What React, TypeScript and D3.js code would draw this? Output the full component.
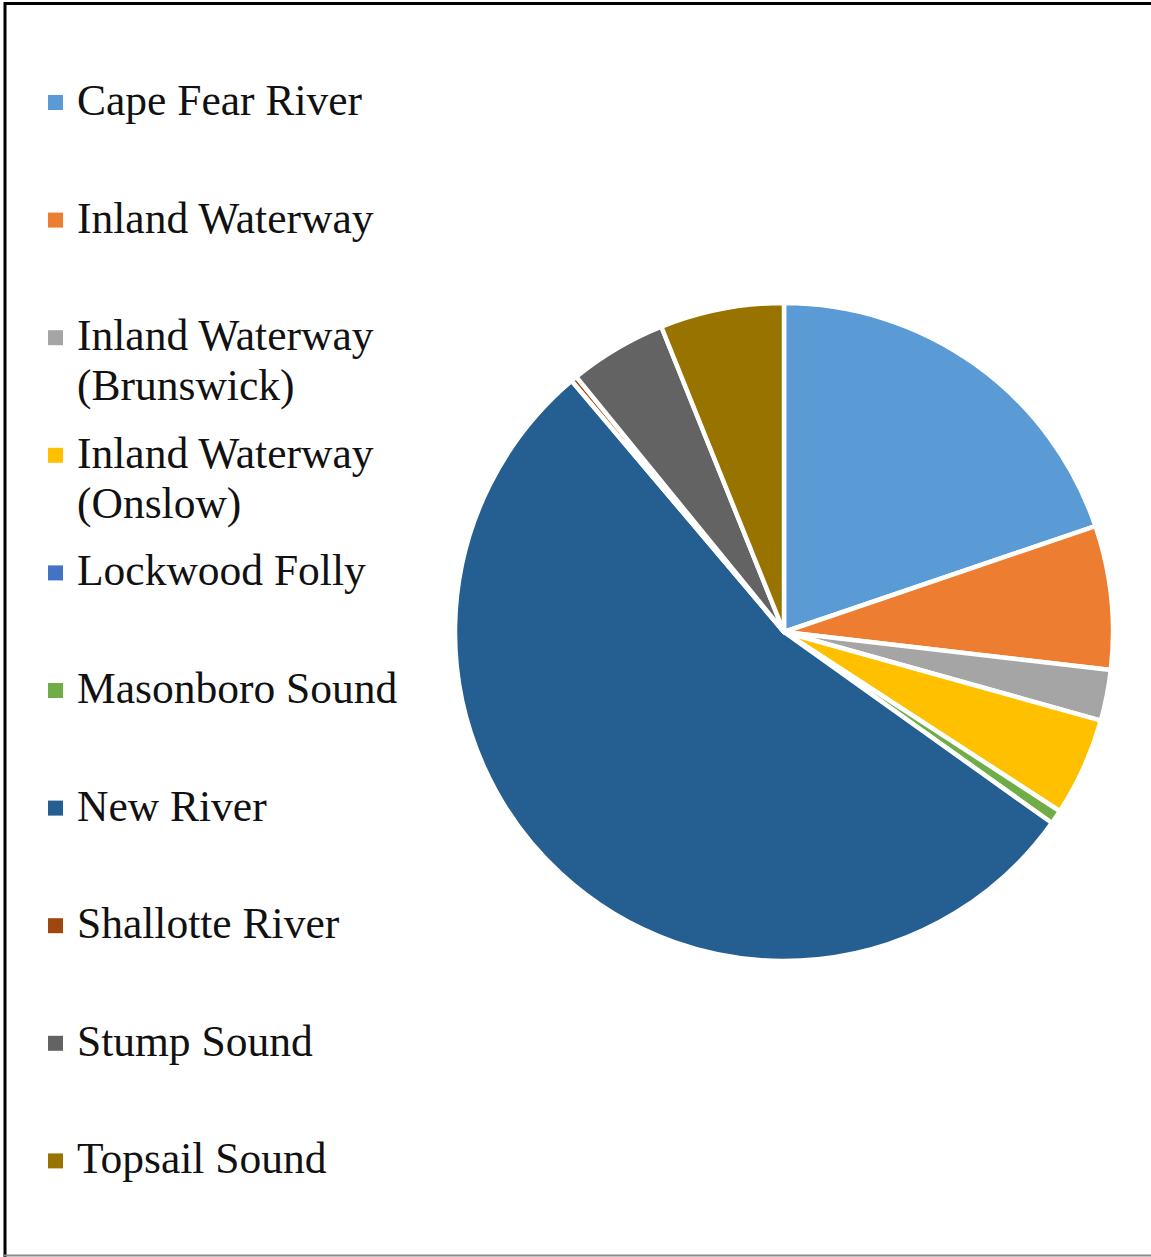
import { useRef, useEffect } from "react";
import * as d3 from "d3";

// Share of each location (percent)
const categories = [
  "Cape Fear River",
  "Inland Waterway",
  "Inland Waterway (Brunswick)",
  "Inland Waterway (Onslow)",
  "Lockwood Folly",
  "Masonboro Sound",
  "New River",
  "Shallotte River",
  "Stump Sound",
  "Topsail Sound",
];
const values = [19.78, 7.06, 2.5, 4.83, 0, 0.69, 53.97, 0.3, 4.79, 6.08];
// legend text split over lines as in the original
const legendLines = [
  ["Cape Fear River"],
  ["Inland Waterway"],
  ["Inland Waterway", "(Brunswick)"],
  ["Inland Waterway", "(Onslow)"],
  ["Lockwood Folly"],
  ["Masonboro Sound"],
  ["New River"],
  ["Shallotte River"],
  ["Stump Sound"],
  ["Topsail Sound"],
];
const colors = [
  "#5B9BD5",
  "#ED7D31",
  "#A5A5A5",
  "#FFC000",
  "#4472C4",
  "#70AD47",
  "#255E91",
  "#9E480E",
  "#636363",
  "#997300",
];

type Slice = { name: string; value: number };

const App = () => {
  const svgRef = useRef<SVGSVGElement | null>(null);
  const width = 1151;
  const height = 1257;

  useEffect(() => {
    if (!svgRef.current) return;
    const svg = d3.select(svgRef.current);
    svg.selectAll("*").remove();

    const data: Slice[] = categories.map((c, i) => ({ name: c, value: values[i] }));
    const color = d3.scaleOrdinal<string, string>().domain(categories).range(colors);

    // frame
    svg.append("line").attr("x1", 4).attr("x2", width).attr("y1", 3.5).attr("y2", 3.5)
      .attr("stroke", "#000").attr("stroke-width", 3);
    svg.append("line").attr("x1", 5).attr("x2", 5).attr("y1", 2).attr("y2", height)
      .attr("stroke", "#000").attr("stroke-width", 3);
    svg.append("line").attr("x1", 4).attr("x2", width).attr("y1", 1255.5).attr("y2", 1255.5)
      .attr("stroke", "#8a8a8a").attr("stroke-width", 2);

    // pie
    const cx = 784;
    const cy = 632;
    const radius = 329;
    const pie = d3.pie<Slice>().value((d) => d.value).sort(null).startAngle(0).endAngle(2 * Math.PI);
    const arc = d3.arc<d3.PieArcDatum<Slice>>().innerRadius(0).outerRadius(radius);

    const g = svg.append("g").attr("transform", `translate(${cx},${cy})`);
    g.selectAll("path")
      .data(pie(data).filter((d) => d.value > 0))
      .enter()
      .append("path")
      .attr("d", arc)
      .attr("fill", (d) => color(d.data.name))
      .attr("stroke", "#fff")
      .attr("stroke-width", 4.5)
      .attr("stroke-linejoin", "round");

    // legend
    const y = d3.scaleLinear().domain([0, 1]).range([115, 115 + 117.6]);
    const legend = svg.append("g");
    const items = legend
      .selectAll("g.item")
      .data(categories)
      .enter()
      .append("g")
      .attr("class", "item")
      .attr("transform", (_d, i) => `translate(0,${y(i)})`);

    items.append("rect")
      .attr("x", 48)
      .attr("y", -20)
      .attr("width", 15)
      .attr("height", 15)
      .attr("fill", (d) => color(d));

    items.append("text")
      .attr("x", 77)
      .style("font-family", "'Times New Roman', 'Liberation Serif', serif")
      .style("font-size", "43.5px")
      .style("fill", "#111")
      .selectAll("tspan")
      .data((_d, i) => legendLines[i])
      .enter()
      .append("tspan")
      .attr("x", 77)
      .attr("y", (_d, j) => j * 50)
      .text((d) => d);
  }, []);

  return (
    <svg
      ref={svgRef}
      width={width}
      height={height}
      style={{ position: "absolute", left: 0, top: 0, background: "#fff" }}
    ></svg>
  );
};

export default App;
